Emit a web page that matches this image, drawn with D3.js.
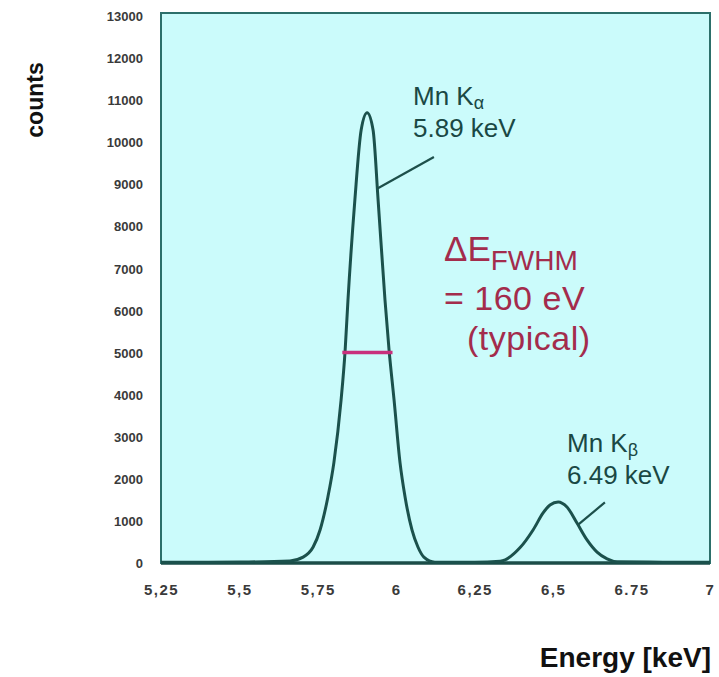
<!DOCTYPE html>
<html>
<head>
<meta charset="utf-8">
<script src="https://cdn.jsdelivr.net/npm/d3@7"></script>
<style>
  html, body { margin: 0; padding: 0; background: #ffffff; }
  svg { display: block; }
</style>
</head>
<body>
<svg id="chart" width="719" height="677"></svg>
<script>
// Mn X-ray spectrum: energy (keV) vs counts
const energy = [5.25, 5.40, 5.53, 5.661, 5.703, 5.735, 5.757, 5.782, 5.801, 5.824, 5.837, 5.846, 5.868, 5.888, 5.907,
                5.926, 5.942, 5.964, 5.977, 5.993, 6.012, 6.028, 6.050, 6.069, 6.088, 6.123, 6.25, 6.331,
                6.394, 6.436, 6.468, 6.490, 6.516, 6.544, 6.576, 6.608, 6.640, 6.672, 6.704, 6.85, 7.0];
const counts = [20, 20, 25, 50, 140, 380, 785, 1570, 2380, 3870, 5060, 6250, 8630, 10290, 10700,
                10290, 8630, 6250, 5060, 3870, 2380, 1570, 785, 380, 140, 20, 20, 40,
                360, 785, 1190, 1380, 1450, 1330, 950, 550, 260, 100, 30, 20, 20];

const xTicks = [5.25, 5.5, 5.75, 6, 6.25, 6.5, 6.75, 7];
const xTickLabels = ["5,25", "5,5", "5,75", "6", "6,25", "6,5", "6.75", "7"];
const yTicks = [0, 1000, 2000, 3000, 4000, 5000, 6000, 7000, 8000, 9000, 10000, 11000, 12000, 13000];

// FWHM marker (keV) at half-height level
const fwhmCenter = 5.908;
const fwhmWidth = 0.160;
const fwhmLevel = 5000;

// Peak annotations: label lines, leader line start (on curve) and end
const peaks = [
  { name: "Mn K", sub: "α", energyText: "5.89 keV", lineFrom: [5.94, 8900], lineTo: [6.12, 9650] },
  { name: "Mn K", sub: "β", energyText: "6.49 keV", lineFrom: [6.578, 900], lineTo: [6.665, 1440] }
];

const svg = d3.select("#chart");
const margin = { left: 161, right: 9, top: 16, bottom: 114 };
const W = 719, H = 677;
const FONT = "Liberation Sans, Arial, Helvetica, sans-serif";

const x = d3.scaleLinear().domain([5.25, 7]).range([margin.left, W - margin.right]);
const y = d3.scaleLinear().domain([0, 13000]).range([H - margin.bottom, margin.top]);

// plot background
svg.append("rect")
  .attr("x", x(5.25)).attr("y", y(13000) - 3)
  .attr("width", x(7) - x(5.25)).attr("height", y(0) - y(13000) + 3)
  .attr("fill", "#cbfbfb")
  .attr("stroke", "#2c6f6a").attr("stroke-width", 2);

// y axis labels
const yAxis = d3.axisLeft(y).tickValues(yTicks).tickSize(0).tickPadding(18).tickFormat(d3.format("d"));
const gy = svg.append("g").attr("transform", `translate(${x(5.25)},0)`).call(yAxis);
gy.select(".domain").remove();
gy.selectAll("text")
  .attr("font-family", FONT)
  .attr("font-size", 13).attr("fill", "#3a3a3a").attr("font-weight", "bold")
  .attr("dy", "0.35em");

// x axis labels
const xAxis = d3.axisBottom(x).tickValues(xTicks).tickSize(0).tickPadding(21)
  .tickFormat((d, i) => xTickLabels[i]);
const gx = svg.append("g").attr("transform", `translate(0,${y(0)})`).call(xAxis);
gx.select(".domain").remove();
gx.selectAll("text")
  .attr("font-family", FONT)
  .attr("font-size", 15).attr("fill", "#3a3a3a").attr("font-weight", "bold")
  .attr("letter-spacing", 1.5);

// bottom axis line
svg.append("line")
  .attr("x1", x(5.25)).attr("x2", x(7))
  .attr("y1", y(0)).attr("y2", y(0))
  .attr("stroke", "#1b4d48").attr("stroke-width", 3.5);

// spectrum line
const line = d3.line()
  .x((d, i) => x(energy[i]))
  .y((d, i) => y(counts[i]))
  .curve(d3.curveMonotoneX);
svg.append("path")
  .datum(counts)
  .attr("d", line)
  .attr("fill", "none")
  .attr("stroke", "#1b514c")
  .attr("stroke-width", 3)
  .attr("stroke-linejoin", "round");

// FWHM bar
svg.append("line")
  .attr("x1", x(fwhmCenter - fwhmWidth / 2)).attr("x2", x(fwhmCenter + fwhmWidth / 2))
  .attr("y1", y(fwhmLevel)).attr("y2", y(fwhmLevel))
  .attr("stroke", "#c8307c").attr("stroke-width", 3.5);

// peak annotations
const labelPos = [{ x: 413, y: 105 }, { x: 567, y: 452 }];
peaks.forEach((p, i) => {
  svg.append("line")
    .attr("x1", x(p.lineFrom[0])).attr("y1", y(p.lineFrom[1]))
    .attr("x2", x(p.lineTo[0])).attr("y2", y(p.lineTo[1]))
    .attr("stroke", "#1d4f4a").attr("stroke-width", 2.2);
  const t = svg.append("text")
    .attr("x", labelPos[i].x).attr("y", labelPos[i].y)
    .attr("font-family", FONT)
    .attr("font-size", 26).attr("fill", "#1a4844");
  t.append("tspan").text(p.name);
  t.append("tspan").attr("font-size", 18).attr("dy", 4).text(p.sub);
  svg.append("text")
    .attr("x", labelPos[i].x).attr("y", labelPos[i].y + 32)
    .attr("font-family", FONT)
    .attr("font-size", 26).attr("fill", "#1a4844")
    .text(p.energyText);
});

// resolution annotation
const res = svg.append("g")
  .attr("font-family", FONT)
  .attr("fill", "#a32c4c");
const r1 = res.append("text").attr("x", 444).attr("y", 261).attr("font-size", 35);
r1.append("tspan").text("ΔE");
r1.append("tspan").attr("font-size", 28).attr("dy", 9).text("FWHM");
res.append("text").attr("x", 444).attr("y", 310).attr("font-size", 34)
  .attr("letter-spacing", 0.5).text("= 160 eV");
res.append("text").attr("x", 467).attr("y", 350).attr("font-size", 34)
  .attr("letter-spacing", 0.5).text("(typical)");

// axis titles
svg.append("text")
  .attr("transform", "translate(43,100) rotate(-90)")
  .attr("text-anchor", "middle")
  .attr("font-family", FONT)
  .attr("font-size", 23).attr("font-weight", "bold").attr("fill", "#111")
  .text("counts");

svg.append("text")
  .attr("x", 711).attr("y", 667)
  .attr("text-anchor", "end")
  .attr("font-family", FONT)
  .attr("font-size", 28).attr("font-weight", "bold").attr("fill", "#111")
  .text("Energy [keV]");
</script>
</body>
</html>
